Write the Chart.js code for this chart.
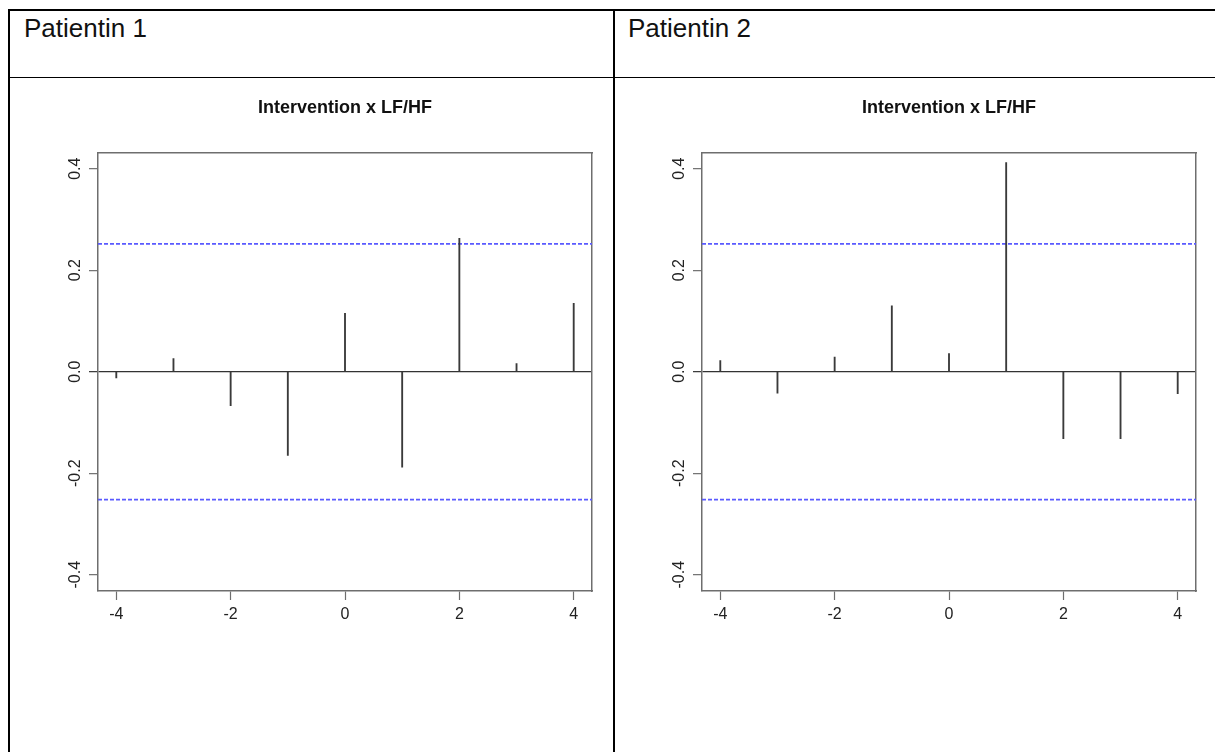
<!DOCTYPE html>
<html>
<head>
<meta charset="utf-8">
<script src="https://cdn.jsdelivr.net/npm/chart.js@4/dist/chart.umd.min.js"></script>
<style>
  html, body { margin: 0; padding: 0; background: #fff; overflow: hidden; }
  body { width: 1215px; height: 752px; position: relative; font-family: 'Liberation Sans', Arial, sans-serif; }
  .line { position: absolute; background: #000; }
  .head { position: absolute; top: 13px; font-size: 26px; color: #111; }
  canvas { position: absolute; top: 80px; }
</style>
</head>
<body>
<div class="line" style="left:8px;top:9px;width:1207px;height:2px"></div>
<div class="line" style="left:8px;top:9px;width:2px;height:743px"></div>
<div class="line" style="left:613px;top:9px;width:2px;height:743px"></div>
<div class="line" style="left:9px;top:77px;width:1206px;height:1px"></div>
<div class="head" style="left:24px">Patientin 1</div>
<div class="head" style="left:628px">Patientin 2</div>
<canvas id="chart-1" width="594" height="571" style="left:48px"></canvas>
<canvas id="chart-2" width="594" height="571" style="left:652px"></canvas>
<script>
// cross-correlation Intervention x LF/HF, lags -4..4
const lags = [-4, -3, -2, -1, 0, 1, 2, 3, 4];
const patientin1 = [-0.012, 0.026, -0.067, -0.165, 0.115, -0.188, 0.263, 0.016, 0.135];
const patientin2 = [0.022, -0.042, 0.029, 0.13, 0.036, 0.412, -0.132, -0.132, -0.043];
const confLimit = 0.252;
const xTicks = [-4, -2, 0, 2, 4];
const yTicks = [-0.4, -0.2, 0, 0.2, 0.4];
const xRange = [-4.32, 4.32];
const yRange = [-0.432, 0.432];

const FONT = "'Liberation Sans', Arial, sans-serif";
const boxColor = '#6e6e6e';
const blue = '#5a5aff';

const chartInit = (canvas, values) => {
  const stems = lags.map((lag, i) => ({ x: lag, y: values[i] }));
  const confLine = (v) => xRange.map((x) => ({ x: x, y: v }));

  const frameAxis = (position, size) => ({
    type: 'linear',
    position: position,
    min: 0,
    max: 1,
    ticks: { display: false },
    grid: { display: false, drawTicks: false },
    border: { display: true, color: boxColor, width: 1.5 },
    afterFit: (axis) => {
      if (position === 'top') axis.height = size;
      else axis.width = size;
    },
  });

  const confSet = (v) => ({
    type: 'line',
    data: confLine(v),
    borderColor: blue,
    borderWidth: 1.7,
    borderDash: [4, 2],
    pointRadius: 0,
    xAxisID: 'x',
    yAxisID: 'y',
  });

  return new Chart(canvas, {
    type: 'bar',
    data: {
      datasets: [
        {
          type: 'bar',
          data: stems,
          backgroundColor: '#3a3a3a',
          borderWidth: 0,
          barThickness: 1.2,
          xAxisID: 'x',
          yAxisID: 'y',
        },
        confSet(confLimit),
        confSet(-confLimit),
      ],
    },
    options: {
      responsive: false,
      animation: false,
      devicePixelRatio: 1,
      layout: { padding: 0 },
      plugins: {
        legend: { display: false },
        tooltip: { enabled: false },
        title: {
          display: true,
          text: 'Intervention x LF/HF',
          color: '#111',
          font: { family: FONT, size: 18, weight: 'bold', lineHeight: 1.2 },
          padding: { top: 17.4, bottom: 33.5 },
        },
      },
      scales: {
        x: {
          type: 'linear',
          position: 'bottom',
          min: xRange[0],
          max: xRange[1],
          offset: false,
          afterBuildTicks: (axis) => {
            axis.ticks = xTicks.map((v) => ({ value: v }));
          },
          afterFit: (axis) => {
            axis.height = 60;
          },
          ticks: {
            autoSkip: false,
            maxRotation: 0,
            color: '#222',
            padding: 5,
            font: { family: FONT, size: 16 },
            callback: (v) => String(v),
          },
          grid: {
            offset: false,
            drawOnChartArea: false,
            drawTicks: true,
            tickLength: 9,
            tickWidth: 1.2,
            tickColor: boxColor,
          },
          border: { display: true, color: boxColor, width: 1.5 },
        },
        y: {
          type: 'linear',
          position: 'left',
          min: yRange[0],
          max: yRange[1],
          afterBuildTicks: (axis) => {
            axis.ticks = yTicks.map((v) => ({ value: v }));
          },
          afterFit: (axis) => {
            axis.width = 50;
          },
          ticks: {
            autoSkip: false,
            minRotation: 90,
            maxRotation: 90,
            crossAlign: 'center',
            color: '#222',
            padding: 0,
            font: { family: FONT, size: 16 },
            callback: (v) => Number(v).toFixed(1),
          },
          grid: {
            drawOnChartArea: true,
            drawTicks: true,
            tickLength: 9,
            tickWidth: 1.2,
            lineWidth: 1.3,
            color: (ctx) => (ctx.tick && ctx.tick.value === 0 ? '#333' : 'rgba(0,0,0,0)'),
            tickColor: (ctx) => (ctx.tick && ctx.tick.value === 0 ? '#333' : boxColor),
          },
          border: { display: true, color: boxColor, width: 1.5 },
        },
        frameTop: frameAxis('top', 0),
        frameRight: frameAxis('right', 50),
      },
    },
  });
};

chartInit(document.getElementById('chart-1'), patientin1);
chartInit(document.getElementById('chart-2'), patientin2);
</script>
</body>
</html>
